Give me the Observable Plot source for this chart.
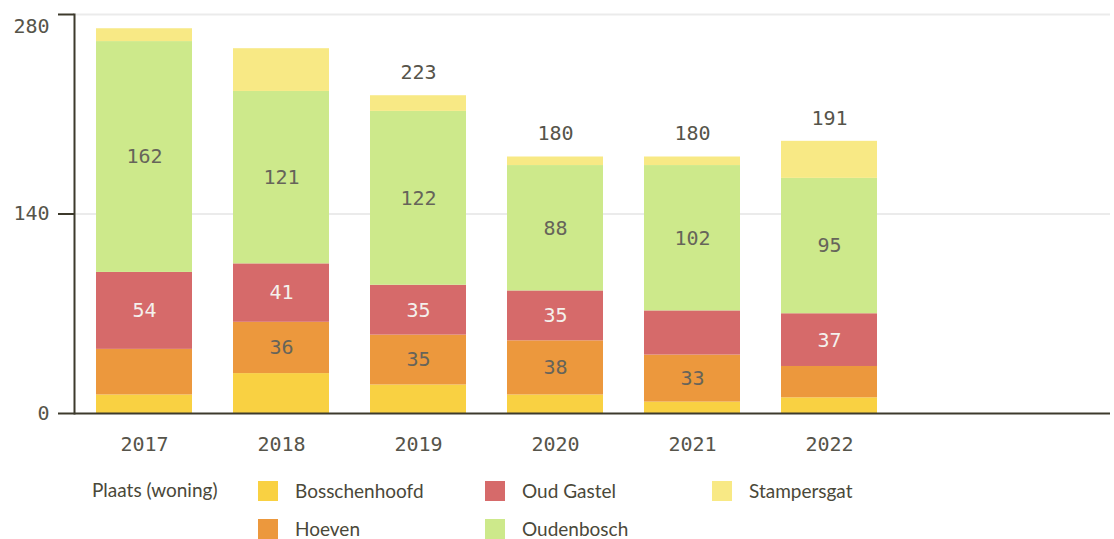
<!DOCTYPE html>
<html><head><meta charset="utf-8">
<script src="https://cdn.jsdelivr.net/npm/d3@7"></script>
<script src="https://cdn.jsdelivr.net/npm/@observablehq/plot@0.6"></script>
<style>
body{margin:0;background:#fff;}
#chart{width:1114px;height:465px;}
#legend{position:relative;width:1114px;height:74px;font-family:Lato,"Open Sans",sans-serif;color:#4a4839;font-size:19px;}
#legend .t{position:absolute;white-space:nowrap;line-height:20px;}
#legend .s{position:absolute;width:20px;height:20px;}
</style></head><body><div id="chart"></div><div id="legend"></div>
<script>
const years = ["2017","2018","2019","2020","2021","2022"];
const places = ["Bosschenhoofd","Hoeven","Oud Gastel","Oudenbosch","Stampersgat"];
const colors = ["#f9d142","#ec983d","#d66a6a","#cde98b","#f8e985"];
const bosschenhoofd = [13,28,20,13,8,11];
const hoeven = [32,36,35,38,33,22];
const oudGastel = [54,41,35,35,31,37];
const oudenbosch = [162,121,122,88,102,95];
const stampersgat = [9,30,11,6,6,26];
const yTicks = [0,140,280];
const totalLabelYears = ["2019","2020","2021","2022"];
const legendTitle = "Plaats (woning)";

const series = [bosschenhoofd, hoeven, oudGastel, oudenbosch, stampersgat];
const data = [];
places.forEach((p, i) => years.forEach((y, j) => data.push({year: y, place: p, value: series[i][j]})));
const totals = years.map((y, j) => ({year: y, total: d3.sum(series, s => s[j])}))
  .filter(d => totalLabelYears.includes(d.year));

const minLabel = 32;
const dark = "#66645a";
const axisColor = "#3d3a2c";

const chart = Plot.plot({
  width: 1114, height: 465,
  marginTop: 14, marginBottom: 52, marginLeft: 74, marginRight: 4,
  style: {fontFamily: "'DejaVu Sans Mono', monospace", fontSize: "20px", color: "#56544a", background: "white"},
  x: {domain: years, paddingInner: 0.3, paddingOuter: 0.16, insetRight: 211, axis: null},
  y: {domain: [0, 280], axis: null},
  color: {domain: places, range: colors},
  marks: [
    Plot.gridY(yTicks.filter(d => d > 0), {stroke: "#ebebeb", strokeOpacity: 1, strokeWidth: 2}),
    Plot.barY(data, {x: "year", y: "value", fill: "place", z: "place"}),
    Plot.text(data, Plot.stackY({x: "year", y: "value", z: "place",
      text: d => (d.value > minLabel && d.place !== "Oud Gastel") ? String(d.value) : "", fill: dark})),
    Plot.text(data, Plot.stackY({x: "year", y: "value", z: "place",
      text: d => (d.value > minLabel && d.place === "Oud Gastel") ? String(d.value) : "", fill: "#f4f1ec"})),
    Plot.text(totals, {x: "year", y: "total", text: d => String(d.total), dy: -23, fill: "#56544a"}),
    Plot.axisY({ticks: yTicks.slice(0, 2), tickSize: 16, tickPadding: 9, label: null, stroke: axisColor, strokeWidth: 2, strokeOpacity: 1}),
    Plot.axisY({ticks: yTicks.slice(2), tickSize: 0, tickPadding: 25, dy: 12, label: null}),
    Plot.axisY({ticks: yTicks.slice(2), tickSize: 16, tickPadding: 9, text: null, label: null, stroke: axisColor, strokeWidth: 2, strokeOpacity: 1}),
    Plot.axisX({tickSize: 0, tickPadding: 23, label: null}),
    Plot.frame({anchor: "left", stroke: axisColor, strokeWidth: 2}),
    Plot.ruleY([0], {stroke: axisColor, strokeWidth: 2})
  ]
});
document.getElementById("chart").append(chart);

// Legend
const lg = document.getElementById("legend");
const title = document.createElement("div");
title.className = "t"; title.textContent = legendTitle;
title.style.left = "92px"; title.style.top = "15px";
lg.append(title);
places.forEach((p, i) => {
  const col = Math.floor(i / 2), row = i % 2;
  const left = 258 + col * 227, top = 16 + row * 38;
  const s = document.createElement("div");
  s.className = "s"; s.style.left = left + "px"; s.style.top = top + "px"; s.style.background = colors[i];
  const t = document.createElement("div");
  t.className = "t"; t.textContent = p; t.style.left = (left + 37) + "px"; t.style.top = (top) + "px";
  lg.append(s, t);
});
</script>
</body></html>
